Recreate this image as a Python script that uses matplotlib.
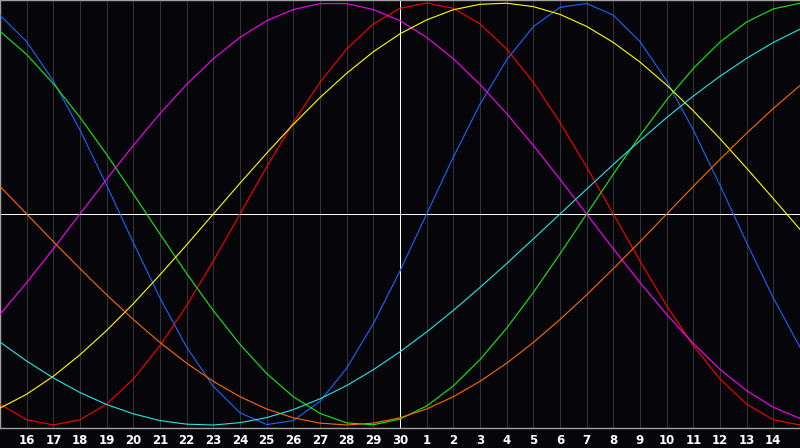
import matplotlib
matplotlib.use("Agg")
import matplotlib.pyplot as plt

# day labels along the bottom, one per grid line
days = list(range(16, 31)) + list(range(1, 15))

# curve values, one per day from the left edge (x=-1) to the right edge (x=29)
physical = [0.942, 0.817, 0.631, 0.398, 0.136, -0.136, -0.398, -0.631, -0.817, -0.942, -0.998,
            -0.979, -0.888, -0.731, -0.520, -0.270, 0.0, 0.270, 0.520, 0.731, 0.888, 0.979,
            0.998, 0.942, 0.817, 0.631, 0.398, 0.136, -0.136, -0.398, -0.631]
emotional = [-0.901, -0.975, -1.0, -0.975, -0.901, -0.782, -0.624, -0.434, -0.223, 0.0, 0.223,
             0.434, 0.624, 0.782, 0.901, 0.975, 1.0, 0.975, 0.901, 0.782, 0.624, 0.434,
             0.223, 0.0, -0.223, -0.434, -0.624, -0.782, -0.901, -0.975, -1.0]
intellectual = [0.866, 0.756, 0.618, 0.458, 0.282, 0.095, -0.095, -0.282, -0.458, -0.618, -0.756,
                -0.866, -0.945, -0.990, -0.999, -0.972, -0.910, -0.815, -0.690, -0.541, -0.372, -0.189,
                0.0, 0.189, 0.372, 0.541, 0.690, 0.815, 0.910, 0.972, 0.999]
intuitive = [-0.476, -0.325, -0.165, 0.0, 0.165, 0.325, 0.476, 0.614, 0.736, 0.837, 0.916,
             0.969, 0.997, 0.997, 0.969, 0.916, 0.837, 0.736, 0.614, 0.476, 0.325, 0.165,
             0.0, -0.165, -0.325, -0.476, -0.614, -0.736, -0.837, -0.916, -0.969]
aesthetic = [-0.920, -0.854, -0.769, -0.667, -0.552, -0.425, -0.288, -0.146, 0.0, 0.146, 0.288,
             0.425, 0.552, 0.667, 0.769, 0.854, 0.920, 0.968, 0.994, 0.999, 0.983, 0.946,
             0.889, 0.813, 0.720, 0.611, 0.489, 0.357, 0.217, 0.073, -0.073]
awareness = [0.131, 0.0, -0.131, -0.259, -0.383, -0.5, -0.609, -0.707, -0.793, -0.866, -0.924,
             -0.966, -0.991, -1.0, -0.991, -0.966, -0.924, -0.866, -0.793, -0.707, -0.609, -0.5,
             -0.383, -0.259, -0.131, 0.0, 0.131, 0.259, 0.383, 0.5, 0.609]
spiritual = [-0.607, -0.697, -0.777, -0.846, -0.903, -0.947, -0.979, -0.996, -1.0, -0.989, -0.965,
             -0.927, -0.876, -0.813, -0.738, -0.653, -0.559, -0.457, -0.348, -0.235, -0.118, 0.0,
             0.118, 0.235, 0.348, 0.457, 0.559, 0.653, 0.738, 0.813, 0.876]

bg = "#060509"
fig = plt.figure(figsize=(8, 4.48), dpi=100, facecolor=bg)
ax = fig.add_axes([0, 20 / 448, 1, 428 / 448], facecolor=bg)

xs = list(range(-1, 30))
ax.set_xlim(-1, 29)
ax.set_ylim(-1.0142, 1.0142)

# daily grid lines, the middle one (today) in white
for i in range(len(days)):
    ax.axvline(i, color="#333333", lw=0.7, antialiased=False, zorder=1)
ax.axhline(0, color="white", lw=0.7, antialiased=False, zorder=2)
ax.axvline(14, color="white", lw=0.7, antialiased=False, zorder=2)

series = [(physical, "#1a66ff"), (emotional, "#ff0000"), (intellectual, "#11ee11"),
          (intuitive, "#ff00ff"), (aesthetic, "#ffff00"), (awareness, "#ff6a00"),
          (spiritual, "#22e8e8")]
for vals, col in series:
    ax.plot(xs, vals, color=col, lw=0.8, zorder=3)

ax.set_xticks(range(len(days)))
ax.set_xticklabels([str(d) for d in days], color="white", fontsize=8.5,
                   fontweight="bold", family="DejaVu Sans")
ax.tick_params(axis="x", length=0, pad=4)
ax.set_yticks([])
for side in ["left", "top", "bottom"]:
    ax.spines[side].set_color("#a0a0a0")
    ax.spines[side].set_linewidth(1.0)
ax.spines["right"].set_visible(False)

fig.savefig("out.png", dpi=100, facecolor=bg)
